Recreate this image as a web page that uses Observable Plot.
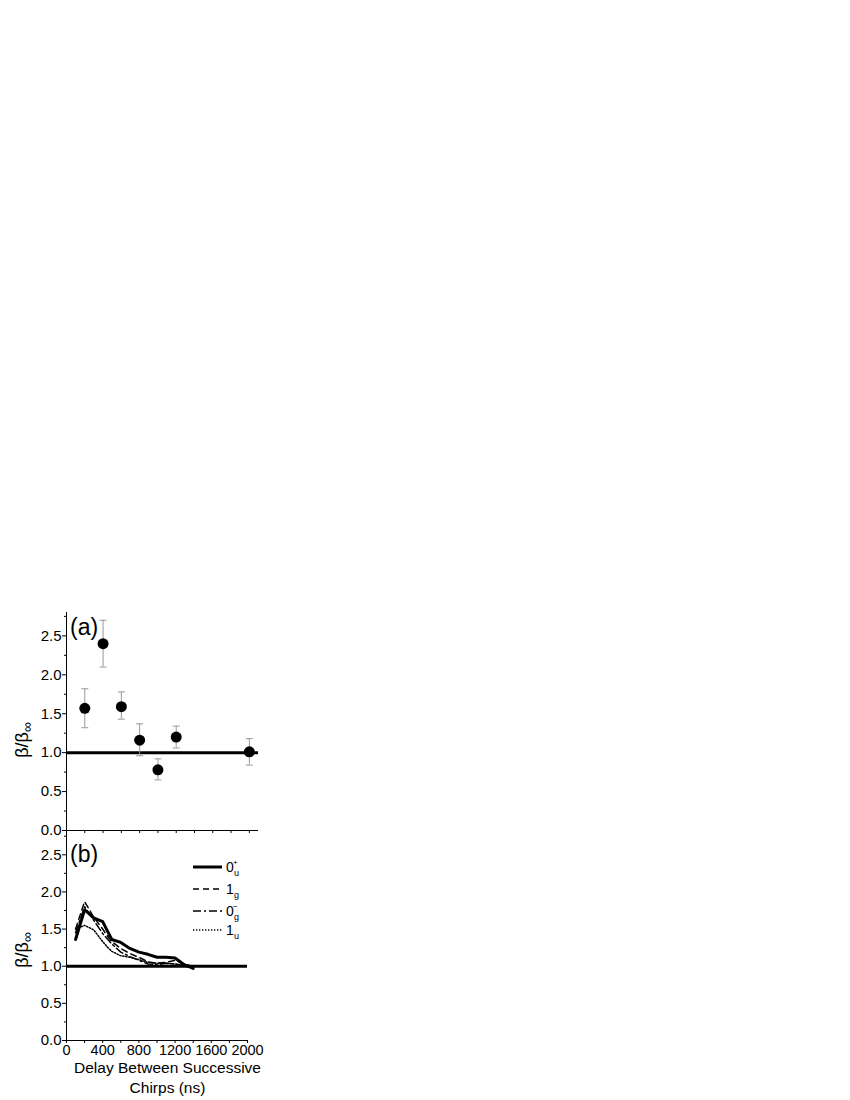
<!DOCTYPE html>
<html>
<head>
<meta charset="utf-8">
<script src="https://cdn.jsdelivr.net/npm/d3@7"></script>
<script src="https://cdn.jsdelivr.net/npm/@observablehq/plot@0.6"></script>
<style>
  html, body { margin: 0; padding: 0; background: #fff; }
  #wrap { position: relative; width: 850px; height: 1100px; font-family: "Liberation Sans", Arial, sans-serif; }
  .panel { position: absolute; left: 0; }
  #xlabel { position: absolute; left: 60px; width: 215px; top: 1058px; text-align: center; font-size: 15.5px; line-height: 20px; color: #000; }
</style>
</head>
<body>
<div id="wrap">
  <div id="pa" class="panel" style="top:600px"></div>
  <div id="pb" class="panel" style="top:820px"></div>
  <div id="xlabel">Delay Between Successive<br>Chirps (ns)</div>
</div>
<script>
// ---- Panel (a): measured ratios with error bars ----
const delayA   = [200, 400, 600, 800, 1000, 1200, 2000];
const ratioA   = [1.57, 2.40, 1.59, 1.16, 0.78, 1.20, 1.01];
const errLowA  = [1.32, 2.10, 1.43, 0.96, 0.65, 1.06, 0.84];
const errHighA = [1.82, 2.70, 1.78, 1.37, 0.92, 1.34, 1.18];

// ---- Panel (b): calculated curves ----
const delayB = [100, 200, 300, 400, 450, 500, 600, 700, 800, 900, 1000, 1100, 1200, 1300, 1400];
const curve0uPlus  = [1.36, 1.76, 1.65, 1.60, 1.48, 1.36, 1.32, 1.24, 1.19, 1.16, 1.12, 1.12, 1.11, 1.02, 0.97];
const curve1g      = [1.50, 1.87, 1.66, 1.50, 1.41, 1.33, 1.24, 1.17, 1.12, 1.06, 1.04, 1.05, 1.08, 1.03, 1.00];
const curve0gMinus = [1.45, 1.80, 1.62, 1.44, 1.37, 1.30, 1.19, 1.13, 1.08, 1.03, 1.02, 1.04, 1.03, 1.00, 0.98];
const curve1u      = [1.50, 1.55, 1.49, 1.33, 1.26, 1.20, 1.14, 1.12, 1.09, 1.05, 1.04, 1.04, 1.03, 1.01, 1.00];

const seriesB = [
  {key: "0u+", base: "0", sub: "u", sup: "+", values: curve0uPlus,  width: 3,   dash: null},
  {key: "1g",  base: "1", sub: "g", sup: "",  values: curve1g,      width: 1.5, dash: "6,4"},
  {key: "0g-", base: "0", sub: "g", sup: "\u2212", values: curve0gMinus, width: 1.5, dash: "8,3,2,3"},
  {key: "1u",  base: "1", sub: "u", sup: "",  values: curve1u,      width: 1.5, dash: "1.3,1.7"}
];

const yMajor = [0, 0.5, 1.0, 1.5, 2.0, 2.5];
const yMinor = [0.25, 0.75, 1.25, 1.75, 2.25, 2.75];
const xMinorTicks = [0, 200, 400, 600, 800, 1000, 1200, 1400, 1600, 1800, 2000];
const xLabeledTicks = [0, 400, 800, 1200, 1600, 2000];

const font = "'Liberation Sans', Arial, sans-serif";
const pointsA = delayA.map((d, i) => ({x: d, y: ratioA[i], lo: errLowA[i], hi: errHighA[i]}));

const capSymbol = {
  draw(context, size) {
    const r = Math.sqrt(size / Math.PI);
    context.moveTo(-r, 0);
    context.lineTo(r, 0);
  }
};

function yAxes() {
  return [
    Plot.axisY({ticks: yMajor, tickSize: 4, tickPadding: 1, tickFormat: d3.format(".1f"), label: null, fontSize: 15}),
    Plot.axisY({ticks: yMinor, tickSize: 2, tickFormat: () => "", label: null}),
    Plot.ruleX([0], {stroke: "black", strokeWidth: 1})
  ];
}

const plotA = Plot.plot({
  width: 270, height: 240,
  marginLeft: 66, marginRight: 12, marginTop: 12, marginBottom: 10,
  style: {fontFamily: font, fontSize: "15px", color: "black", background: "transparent", overflow: "visible"},
  x: {domain: [0, 2100]},
  y: {domain: [0, 2.8]},
  marks: [
    ...yAxes(),
    Plot.axisX({ticks: xMinorTicks, tickSize: 3, tickFormat: () => "", label: null}),
    Plot.ruleY([0], {stroke: "black", strokeWidth: 1}),
    Plot.ruleY([1], {stroke: "black", strokeWidth: 3}),
    Plot.ruleX(pointsA, {x: "x", y1: "lo", y2: "hi", stroke: "#999", strokeWidth: 1}),
    Plot.dot(pointsA, {x: "x", y: "lo", symbol: capSymbol, r: 3.5, stroke: "#999", strokeWidth: 1, fill: "none"}),
    Plot.dot(pointsA, {x: "x", y: "hi", symbol: capSymbol, r: 3.5, stroke: "#999", strokeWidth: 1, fill: "none"}),
    Plot.dot(pointsA, {x: "x", y: "y", r: 5.5, fill: "black", stroke: "none"})
  ]
});
document.getElementById("pa").append(plotA);

const longB = seriesB.flatMap(s => delayB.map((d, i) => ({x: d, y: s.values[i], key: s.key})));

const plotB = Plot.plot({
  width: 275, height: 240,
  marginLeft: 66, marginRight: 28, marginTop: 12, marginBottom: 20,
  style: {fontFamily: font, fontSize: "15px", color: "black", background: "transparent", overflow: "visible"},
  x: {domain: [0, 2000]},
  y: {domain: [0, 2.8]},
  marks: [
    ...yAxes(),
    Plot.axisX({ticks: xMinorTicks, tickSize: 3, tickFormat: () => "", label: null}),
    Plot.axisX({ticks: xLabeledTicks, tickSize: 0, tickPadding: 4, tickFormat: d => String(d), label: null, fontSize: 14.5}),
    Plot.ruleY([0], {stroke: "black", strokeWidth: 1}),
    Plot.ruleY([1], {stroke: "black", strokeWidth: 3}),
    ...seriesB.map(s => Plot.line(longB.filter(d => d.key === s.key), {
      x: "x", y: "y", stroke: "black", strokeWidth: s.width, strokeDasharray: s.dash, strokeLinejoin: "round"
    }))
  ]
});
document.getElementById("pb").append(plotB);

// Panel letters and y labels
function decorate(svg, letter, letterY, labelY) {
  const s = d3.select(svg);
  s.append("text").attr("x", 70).attr("y", letterY).attr("text-anchor", "start")
    .attr("font-size", 23).attr("font-family", font).attr("fill", "black").text(letter);
  const t = s.append("text").attr("transform", `translate(28,${labelY}) rotate(-90)`)
    .attr("text-anchor", "middle").attr("font-size", 18).attr("font-family", font).attr("fill", "black");
  t.append("tspan").text("\u03b2/\u03b2");
  t.append("tspan").attr("font-size", 14).attr("dy", 4).text("\u221e");
}
decorate(plotA, "(a)", 35, 140);
decorate(plotB, "(b)", 42, 130);

// Legend in panel (b)
const lg = d3.select(plotB).append("g").attr("font-family", font).attr("fill", "black").attr("text-anchor", "start");
seriesB.forEach((s, i) => {
  const y = [47, 69, 91, 110][i];
  lg.append("line").attr("x1", 193).attr("x2", 222).attr("y1", y).attr("y2", y)
    .attr("stroke", "black").attr("stroke-width", s.width).attr("stroke-dasharray", s.dash);
  const t = lg.append("text").attr("x", 226).attr("y", y + 5).attr("font-size", 14).attr("text-anchor", "start");
  t.append("tspan").text(s.base);
  if (s.sup) t.append("tspan").attr("font-size", 8).attr("x", 233).attr("y", y - 2).text(s.sup);
  t.append("tspan").attr("font-size", 9).attr("x", 234).attr("y", y + 9).text(s.sub);
});
</script>
</body>
</html>
